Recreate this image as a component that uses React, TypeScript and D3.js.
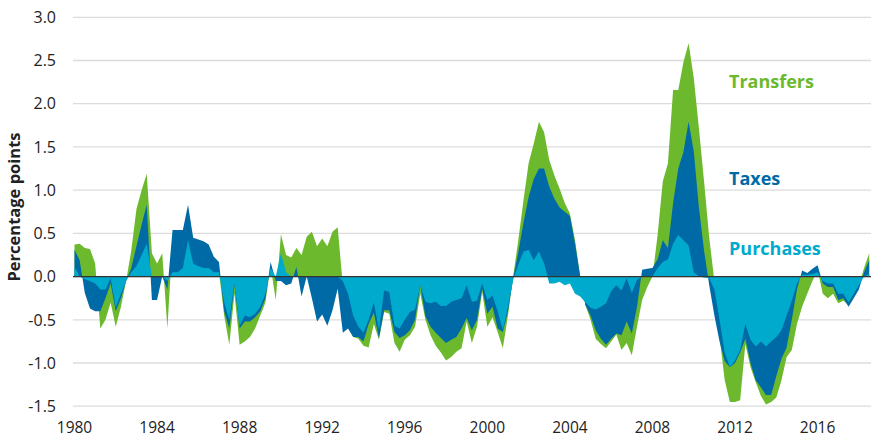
import React from "react";
import * as d3 from "d3";

// Quarterly data, 1980Q1 .. 2018Q3 (percentage points, cumulative contributions)
const START_YEAR = 1980;

// Purchases contribution
const purchases = [
  0.11, 0.0, -0.03, -0.05, -0.08, -0.15, -0.15, -0.02, -0.36, -0.2,
  -0.05, 0.05, 0.12, 0.25, 0.38, 0.0, 0.0, 0.0, -0.05, 0.05,
  0.05, 0.1, 0.42, 0.15, 0.12, 0.1, 0.1, 0.05, 0.05, -0.3,
  -0.5, -0.08, -0.57, -0.45, -0.47, -0.43, -0.35, -0.2, 0.1, 0.0,
  0.27, 0.05, 0.0, 0.0, 0.0, 0.0, 0.0, 0.0, 0.0, 0.0,
  0.0, 0.0, -0.05, -0.2, -0.45, -0.58, -0.65, -0.5, -0.3, -0.62,
  -0.16, -0.18, -0.57, -0.6, -0.5, -0.41, -0.38, -0.1, -0.29, -0.31,
  -0.29, -0.34, -0.34, -0.29, -0.27, -0.25, -0.1, -0.29, -0.28, -0.08,
  -0.27, -0.22, -0.4, -0.62, -0.35, -0.04, 0.14, 0.29, 0.31, 0.19,
  0.29, 0.15, -0.08, -0.08, -0.06, -0.1, -0.08, -0.2, -0.23, -0.3,
  -0.36, -0.38, -0.35, -0.31, -0.17, -0.1, -0.16, -0.02, -0.19, -0.04,
  0.0, 0.0, 0.0, 0.1, 0.17, 0.2, 0.38, 0.48, 0.42, 0.36,
  0.05, 0.0, -0.01, -0.02, -0.15, -0.5, -0.88, -1.05, -0.97, -0.85,
  -0.55, -0.73, -0.81, -0.75, -0.81, -0.75, -0.7, -0.62, -0.45, -0.28,
  -0.08, 0.02, 0.02, 0.03, 0.05, -0.05, -0.08, -0.08, -0.2, -0.2,
  -0.3, -0.2, -0.1, 0.0, 0.03,
];

// Purchases + taxes
const purchasesAndTaxes = [
  0.31, 0.19, -0.19, -0.37, -0.4, -0.4, -0.25, -0.08, -0.4, -0.25,
  -0.05, 0.1, 0.35, 0.6, 0.83, -0.27, -0.27, 0.0, -0.15, 0.54,
  0.54, 0.54, 0.83, 0.45, 0.43, 0.41, 0.37, 0.23, 0.17, -0.4,
  -0.6, -0.1, -0.6, -0.52, -0.52, -0.47, -0.4, -0.25, 0.17, -0.05,
  -0.05, -0.1, -0.08, 0.11, -0.23, 0.0, -0.25, -0.52, -0.44, -0.57,
  -0.39, -0.14, -0.65, -0.6, -0.7, -0.7, -0.75, -0.55, -0.42, -0.71,
  -0.39, -0.39, -0.64, -0.71, -0.68, -0.62, -0.5, -0.1, -0.46, -0.58,
  -0.65, -0.71, -0.77, -0.73, -0.7, -0.6, -0.48, -0.62, -0.5, -0.14,
  -0.43, -0.35, -0.6, -0.64, -0.4, -0.02, 0.28, 0.62, 0.92, 1.13,
  1.25, 1.25, 1.04, 0.9, 0.8, 0.75, 0.7, 0.38, 0.0, -0.33,
  -0.45, -0.62, -0.72, -0.79, -0.72, -0.66, -0.68, -0.52, -0.66, -0.35,
  0.08, 0.09, 0.1, 0.2, 0.42, 0.33, 0.85, 1.25, 1.44, 1.79,
  1.45, 0.8, 0.3, -0.1, -0.45, -0.75, -0.98, -1.05, -1.0, -0.88,
  -0.72, -1.0, -1.2, -1.28, -1.37, -1.37, -1.15, -0.95, -0.82, -0.5,
  -0.15, 0.07, 0.04, 0.09, 0.13, -0.08, -0.12, -0.12, -0.27, -0.25,
  -0.35, -0.25, -0.15, 0.05, 0.19,
];

// Purchases + taxes + transfers (total)
const totalImpact = [
  0.37, 0.38, 0.33, 0.32, 0.15, -0.6, -0.5, -0.3, -0.58, -0.35,
  -0.05, 0.3, 0.78, 1.0, 1.19, 0.27, 0.15, 0.27, -0.6, 0.42,
  0.35, 0.31, 0.61, 0.31, 0.14, 0.12, 0.1, 0.08, 0.05, -0.45,
  -0.79, -0.2, -0.79, -0.75, -0.7, -0.6, -0.45, -0.3, 0.12, -0.27,
  0.49, 0.25, 0.22, 0.33, 0.25, 0.46, 0.52, 0.35, 0.44, 0.35,
  0.52, 0.57, -0.1, -0.55, -0.7, -0.72, -0.8, -0.82, -0.55, -0.73,
  -0.41, -0.43, -0.77, -0.87, -0.73, -0.68, -0.58, -0.2, -0.5, -0.68,
  -0.8, -0.88, -0.97, -0.93, -0.87, -0.83, -0.52, -0.77, -0.58, -0.18,
  -0.58, -0.47, -0.64, -0.83, -0.45, 0.0, 0.42, 0.88, 1.31, 1.54,
  1.79, 1.67, 1.35, 1.17, 1.02, 0.85, 0.73, 0.42, 0.0, -0.33,
  -0.5, -0.72, -0.78, -0.83, -0.75, -0.67, -0.85, -0.77, -0.91, -0.58,
  -0.27, -0.12, 0.0, 0.48, 1.1, 1.31, 2.16, 2.16, 2.48, 2.7,
  2.3, 1.72, 1.1, 0.45, -0.05, -0.7, -1.2, -1.45, -1.45, -1.43,
  -0.78, -1.05, -1.22, -1.38, -1.48, -1.45, -1.4, -1.2, -0.93, -0.85,
  -0.55, -0.35, -0.2, -0.05, 0.08, -0.2, -0.25, -0.2, -0.31, -0.28,
  -0.33, -0.2, -0.1, 0.1, 0.27,
];

const yTicks = [3.0, 2.5, 2.0, 1.5, 1.0, 0.5, 0.0, -0.5, -1.0, -1.5];
const xTickYears = [1980, 1984, 1988, 1992, 1996, 2000, 2004, 2008, 2012, 2016];
const seriesNames = ["Transfers", "Taxes", "Purchases"];
const yAxisTitle = "Percentage points";

const COLORS = {
  transfers: "#6cb92d",
  taxes: "#006aa6",
  purchases: "#00aacd",
  grid: "#dcdcdc",
  zero: "#333333",
  text: "#222222",
};

export default function App() {
  const width = 871;
  const height = 440;
  const x = d3.scaleLinear().domain([1980, 2018.5]).range([74.5, 869.2]);
  const y = d3.scaleLinear().domain([-1.5, 3]).range([406.2, 17.3]);
  const t = (i: number) => START_YEAR + i / 4;

  const areaGen = d3
    .area<number>()
    .x((_, i) => x(t(i)))
    .y0(y(0))
    .y1((d) => y(d));

  const font = "'Open Sans', 'Noto Sans', sans-serif";
  const labelColors = [COLORS.transfers, COLORS.taxes, COLORS.purchases];
  const labelY = [88, 185, 255];

  return (
    <svg
      width={width}
      height={height}
      style={{ position: "absolute", left: 0, top: 0, background: "#fff" }}
    >
      {yTicks.map((v) => (
        <line
          key={"g" + v}
          x1={73}
          x2={871}
          y1={y(v)}
          y2={y(v)}
          stroke={COLORS.grid}
          strokeWidth={1.3}
        />
      ))}
      <path d={areaGen(totalImpact) || ""} fill={COLORS.transfers} />
      <path d={areaGen(purchasesAndTaxes) || ""} fill={COLORS.taxes} />
      <path d={areaGen(purchases) || ""} fill={COLORS.purchases} />
      <line x1={73} x2={871} y1={y(0)} y2={y(0)} stroke={COLORS.zero} strokeWidth={1.3} />
      {yTicks.map((v) => (
        <text
          key={"t" + v}
          x={56}
          y={y(v)}
          dy="0.36em"
          textAnchor="end"
          fontFamily={font}
          fontSize={16}
          fill={COLORS.text}
        >
          {v.toFixed(1)}
        </text>
      ))}
      {xTickYears.map((yr) => (
        <text
          key={"x" + yr}
          x={x(yr)}
          y={433}
          textAnchor="middle"
          fontFamily={font}
          fontSize={15.5}
          fill={COLORS.text}
        >
          {yr}
        </text>
      ))}
      <text
        transform={`translate(20, 207) rotate(-90)`}
        textAnchor="middle"
        fontFamily={font}
        fontSize={16.5}
        fontWeight="bold"
        fill={COLORS.text}
      >
        {yAxisTitle}
      </text>
      {seriesNames.map((n, k) => (
        <text
          key={n}
          x={729}
          y={labelY[k]}
          fontFamily={font}
          fontSize={18}
          fontWeight="bold"
          fill={labelColors[k]}
        >
          {n}
        </text>
      ))}
    </svg>
  );
}
